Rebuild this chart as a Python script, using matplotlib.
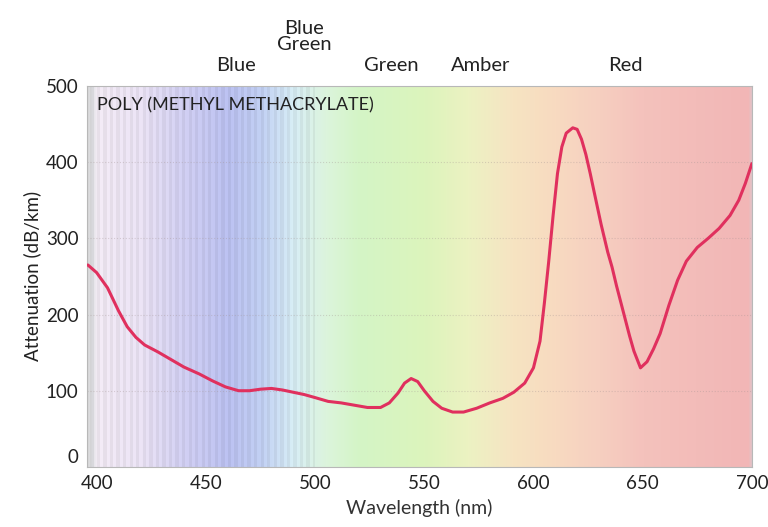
import numpy as np
import matplotlib
matplotlib.use("Agg")
import matplotlib.pyplot as plt
from matplotlib.colors import to_rgb

# attenuation of PMMA fibre vs wavelength
wavelength = [396, 400, 405, 410, 414, 418, 422, 428, 434, 440, 447, 453, 459,
              465, 470, 475, 480, 485, 490, 495, 500, 506, 512, 518, 524, 530,
              534, 538, 541, 544, 547, 550, 554, 558, 563, 568, 574, 580, 586,
              591, 596, 600, 603, 605, 607, 609, 611, 613, 615, 618, 620, 622,
              624, 626, 628, 631, 634, 636, 638, 641, 644, 646, 649, 652, 655,
              658, 662, 666, 670, 675, 680, 685, 690, 694, 697, 700]
attenuation = [265, 255, 235, 205, 184, 170, 160, 151, 141, 131, 122, 113, 105,
               100, 100, 102, 103, 101, 98, 95, 91, 86, 84, 81, 78, 78,
               84, 97, 110, 116, 112, 100, 86, 77, 72, 72, 77, 84, 90,
               98, 110, 130, 165, 215, 270, 330, 385, 420, 438, 445, 443, 430,
               410, 385, 358, 318, 282, 262, 238, 205, 172, 152, 130, 138, 155,
               175, 212, 245, 270, 288, 300, 313, 330, 350, 372, 398]

band_names = ["Blue", "Blue\nGreen", "Green", "Amber", "Red"]
band_centres = [464, 495, 535, 576, 642]

# spectrum colours behind the plot
spec_nm = [395.5, 398, 400, 420, 440, 460, 475, 490, 505, 520, 550, 570,
           590, 610, 630, 650, 698, 700]
spec_col = ["#d6d6d6", "#e4e4e8", "#f4ecf6", "#ece4f6", "#d2d0f4", "#bcc2f2",
            "#c2d0f4", "#d8eef6", "#dcf4dc", "#d4f4c6", "#dcf4bc", "#ecf2c2",
            "#f6e4c2", "#f8dac0", "#f6cfc0", "#f4c2bc", "#f2b6b6", "#dcc6cc"]

plt.rcParams["font.family"] = ["Lato", "DejaVu Sans"]

fig = plt.figure(figsize=(7.68, 5.27), dpi=100)
ax = fig.add_axes([0.113, 0.114, 0.866, 0.723])

xs = np.linspace(395.5, 700, 610)
rgb = np.array([to_rgb(c) for c in spec_col])
row = np.stack([np.interp(xs, spec_nm, rgb[:, k]) for k in range(3)], axis=1)
# faint vertical streaks in the violet/blue part
streak = np.where((np.arange(len(xs)) // 3) % 2 == 0, 1.0, 0.95)
streak = np.where(xs < 500, streak, 1.0)
row = np.clip(row * streak[:, None], 0, 1)
ax.imshow(row[None, :, :], extent=[395.5, 700, 0, 500], aspect="auto",
          interpolation="nearest", zorder=0)

for yv in [100, 200, 300, 400]:
    ax.axhline(yv, color="#a09090", lw=0.8, ls=":", alpha=0.35, zorder=1)

ax.plot(wavelength, attenuation, color="#e0305e", lw=2.2, zorder=3,
        solid_capstyle="round")

ax.set_xlim(395.5, 700)
ax.set_ylim(0, 500)
ax.set_xticks([400, 450, 500, 550, 600, 650, 700])
ax.set_yticks([0, 100, 200, 300, 400, 500])
ax.set_yticklabels(["", "100", "200", "300", "400", "500"])
ax.tick_params(length=0, labelsize=13.5, colors="#222222", pad=6)
ax.text(-0.012, 0.025, "0", transform=ax.transAxes, fontsize=13.5,
        color="#222222", ha="right", va="center")
for s in ax.spines.values():
    s.set_color("#b8b8b8")
    s.set_linewidth(0.8)

ax.set_xlabel("Wavelength (nm)", fontsize=14, color="#333333", labelpad=5)
ax.set_ylabel("Attenuation (dB/km)", fontsize=13.5, color="#222222",
              labelpad=3)

ax.text(0.016, 0.97, "POLY (METHYL METHACRYLATE)", transform=ax.transAxes,
        fontsize=13, color="#222222", ha="left", va="top")

# band names over the plot; the two-line one sits a bit higher
for name, c in zip(band_names, band_centres):
    y = 543 if "\n" in name else 516
    ax.text(c, y, name, fontsize=14.5, color="#222222", ha="center",
            va="bottom", linespacing=0.95, clip_on=False)

fig.savefig("out.png", dpi=100)
